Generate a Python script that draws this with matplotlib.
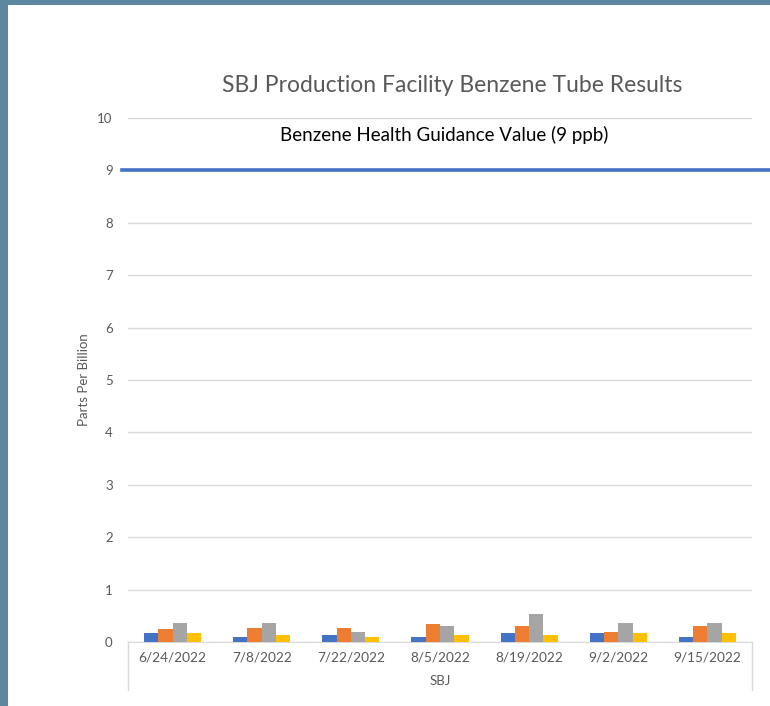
import matplotlib.pyplot as plt
import matplotlib.patches as mpatches
import numpy as np

# sample dates (categories) and the four tube results per date, ppb
dates = ['6/24/2022', '7/8/2022', '7/22/2022', '8/5/2022', '8/19/2022', '9/2/2022', '9/15/2022']
tube1 = [0.17, 0.10, 0.14, 0.10, 0.17, 0.17, 0.10]
tube2 = [0.24, 0.27, 0.27, 0.34, 0.30, 0.20, 0.30]
tube3 = [0.37, 0.37, 0.20, 0.30, 0.53, 0.37, 0.37]
tube4 = [0.17, 0.14, 0.10, 0.14, 0.14, 0.17, 0.17]
guide_value = 9
yticks = [0, 1, 2, 3, 4, 5, 6, 7, 8, 9, 10]

plt.rcParams['font.family'] = ['Lato', 'DejaVu Sans']
txt_gray = '#595959'
grid_gray = '#D9D9D9'
colors = ['#4472C4', '#ED7D31', '#A5A5A5', '#FFC000']

W, H = 770, 706
fig = plt.figure(figsize=(W / 100, H / 100), dpi=100)
fig.patch.set_facecolor('#5D87A1')
# white chart panel, kept behind the axes
fig.patches.append(mpatches.Rectangle((8 / W, 0), 1, 1 - 5 / H, transform=fig.transFigure,
                                      facecolor='white', edgecolor='none', zorder=-10))

ax = fig.add_axes([128 / W, 1 - 642 / H, 624 / W, 524 / H])
ax.set_facecolor('none')

x = np.arange(len(dates))
bw = 0.16
series = [tube1, tube2, tube3, tube4]
for i, (vals, c) in enumerate(zip(series, colors)):
    ax.bar(x + (i - 1.5) * bw, vals, width=bw, color=c, zorder=3)

ax.set_xlim(-0.5, len(dates) - 0.5)
ax.set_ylim(0, 10)
ax.set_yticks(yticks)
ax.set_xticks(x)
ax.set_xticklabels(dates)
ax.tick_params(axis='y', length=0, pad=11, labelsize=9.5, labelcolor=txt_gray)
ax.tick_params(axis='x', length=0, pad=7, labelsize=9.8, labelcolor=txt_gray)
ax.grid(axis='y', color=grid_gray, lw=1, zorder=0)
for s in ['top', 'left', 'right']:
    ax.spines[s].set_visible(False)
ax.spines['bottom'].set_color(grid_gray)

# category axis box lines going down past the labels
for xf in [0, 1]:
    ax.plot([xf, xf], [0, -0.092], transform=ax.transAxes, color=grid_gray, lw=1, clip_on=False)

ax.set_xlabel('SBJ', fontsize=9.5, color=txt_gray, labelpad=8)
ax.set_ylabel('Parts Per Billion', fontsize=9.5, color=txt_gray, labelpad=5)

# guidance line, running out past the plot area
ax.axhline(guide_value, xmin=-0.01, xmax=1.03, color='#4472C4', lw=2.6, clip_on=False, zorder=4)
ax.text(0.506, 9.68, 'Benzene Health Guidance Value (9 ppb)', transform=ax.get_yaxis_transform(),
        ha='center', va='center', fontsize=13.5, color='black')

fig.text(452 / W, 1 - 86 / H, 'SBJ Production Facility Benzene Tube Results',
         ha='center', va='center', fontsize=16.5, color=txt_gray)

fig.savefig('out.png', dpi=100)
